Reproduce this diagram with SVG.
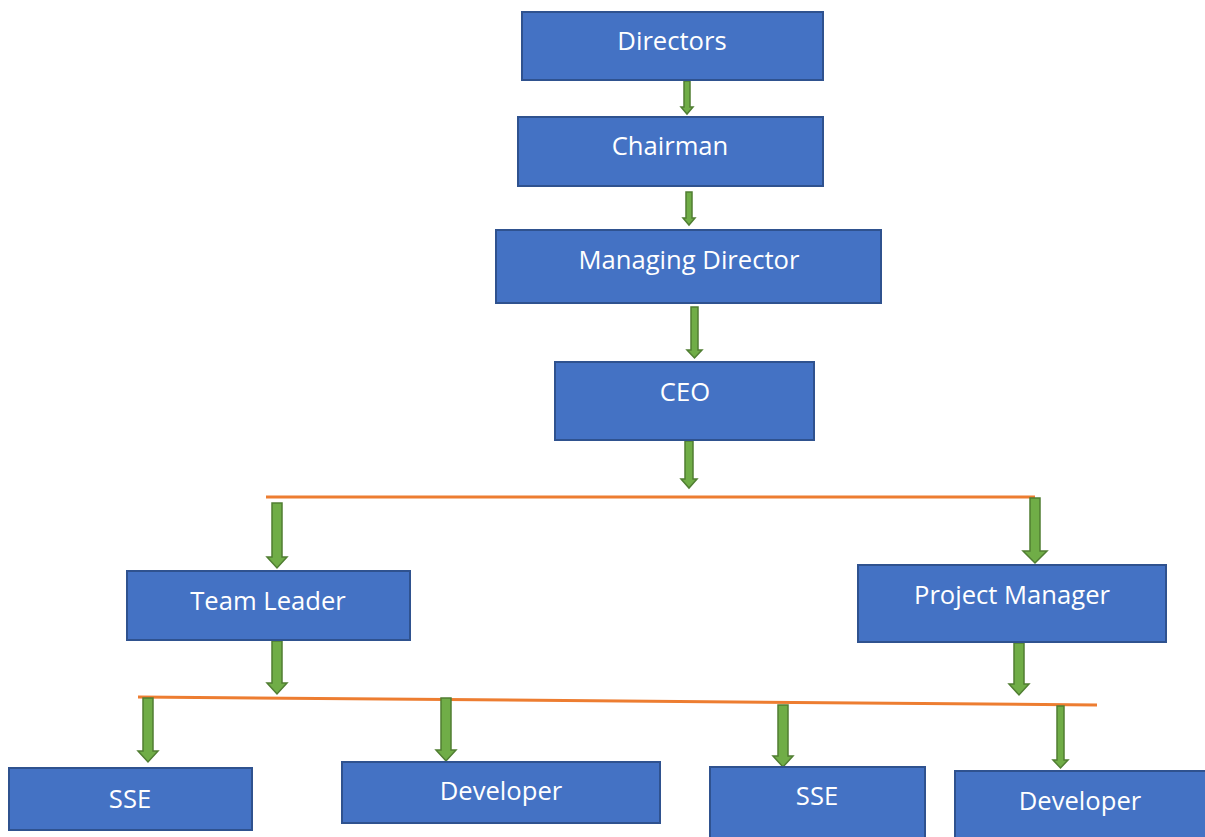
<svg xmlns="http://www.w3.org/2000/svg" width="1205" height="837" viewBox="0 0 1205 837">
<style>
.box{fill:#4472C4;stroke:#2F528F;stroke-width:2}
.lbl{fill:#ffffff;font-family:"Open Sans","Noto Sans","Liberation Sans",sans-serif;font-size:25.6px;text-anchor:middle}
.arr{fill:#70AD47;stroke:#507E32;stroke-width:1.5;stroke-linejoin:miter}
.bar{stroke:#ED7D31;stroke-width:3;fill:none}
</style>
<rect width="1205" height="837" fill="#ffffff"/>
<g id="connectors">
<line class="bar" x1="266" y1="497" x2="1035" y2="497"/>
<line class="bar" x1="138" y1="697" x2="1097" y2="705"/>
<polygon class="arr" points="684,81 690,81 690,107 693,107 687,114 681,107 684,107"/>
<polygon class="arr" points="686,192 692,192 692,218 695,218 689,225 683,218 686,218"/>
<polygon class="arr" points="691,307 698,307 698,350 702,350 694.5,358 687,350 691,350"/>
<polygon class="arr" points="685,441 693,441 693,479 697,479 689,488 681,479 685,479"/>
<polygon class="arr" points="272,503 282,503 282,557 287,557 277,568 267,557 272,557"/>
<polygon class="arr" points="1030,498 1040,498 1040,551 1047,551 1035,563 1023,551 1030,551"/>
<polygon class="arr" points="272,641 282,641 282,683 287,683 277,694 267,683 272,683"/>
<polygon class="arr" points="1014,643 1024,643 1024,684 1029,684 1019,695 1009,684 1014,684"/>
<polygon class="arr" points="143,698 153,698 153,751 158,751 148,762 138,751 143,751"/>
<polygon class="arr" points="441,698 451,698 451,750 456,750 446,761 436,750 441,750"/>
<polygon class="arr" points="778,705 788,705 788,756 793,756 783,767 773,756 778,756"/>
<polygon class="arr" points="1057,706 1064,706 1064,760 1068,760 1060.5,768 1053,760 1057,760"/>
</g>
<g id="directors"><rect class="box" x="522" y="12" width="301" height="68"/><text class="lbl" x="672" y="50">Directors</text></g>
<g id="chairman"><rect class="box" x="518" y="117" width="305" height="69"/><text class="lbl" x="670" y="155">Chairman</text></g>
<g id="managing-director"><rect class="box" x="496" y="230" width="385" height="73"/><text class="lbl" x="689" y="269">Managing Director</text></g>
<g id="ceo"><rect class="box" x="555" y="362" width="259" height="78"/><text class="lbl" x="685" y="401">CEO</text></g>
<g id="team-leader"><rect class="box" x="127" y="571" width="283" height="69"/><text class="lbl" x="268" y="610">Team Leader</text></g>
<g id="project-manager"><rect class="box" x="858" y="565" width="308" height="77"/><text class="lbl" x="1012" y="604">Project Manager</text></g>
<g id="sse-1"><rect class="box" x="9" y="768" width="243" height="62"/><text class="lbl" x="130" y="808">SSE</text></g>
<g id="developer-1"><rect class="box" x="342" y="762" width="318" height="61"/><text class="lbl" x="501" y="800">Developer</text></g>
<g id="sse-2"><rect class="box" x="710" y="767" width="215" height="72"/><text class="lbl" x="817" y="805">SSE</text></g>
<g id="developer-2"><rect class="box" x="955" y="771" width="252" height="68"/><text class="lbl" x="1080" y="810">Developer</text></g>
</svg>
